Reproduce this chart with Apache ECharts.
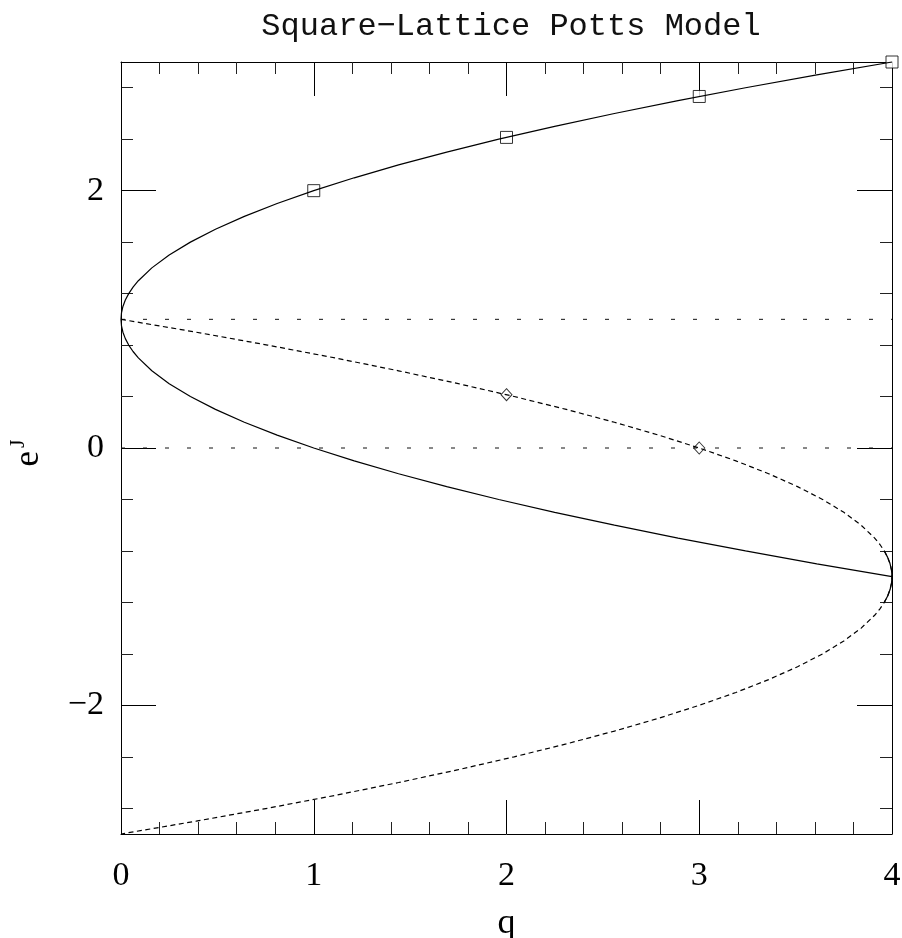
<!DOCTYPE html>
<html>
<head>
<meta charset="utf-8">
<script src="https://cdn.jsdelivr.net/npm/echarts@6/dist/echarts.min.js"></script>
<style>
  html, body { margin: 0; padding: 0; background: #fff; }
  #chart { width: 902px; height: 938px; }
</style>
</head>
<body>
<div id="chart"></div>
<script>
// Ferromagnetic critical curve: q against e^J (upper and lower branch joined at q = 0)
const ferroQ = [4.00, 3.61, 3.24, 2.89, 2.56, 2.25, 1.96, 1.69, 1.44, 1.21, 1.00, 0.81, 0.64, 0.49, 0.36, 0.25, 0.16, 0.09, 0.0625, 0.04, 0.0225, 0.01, 0.0025, 0,
                0.0025, 0.01, 0.0225, 0.04, 0.0625, 0.09, 0.16, 0.25, 0.36, 0.49, 0.64, 0.81, 1.00, 1.21, 1.44, 1.69, 1.96, 2.25, 2.56, 2.89, 3.24, 3.61, 4.00];
const ferroY = [3.0, 2.9, 2.8, 2.7, 2.6, 2.5, 2.4, 2.3, 2.2, 2.1, 2.0, 1.9, 1.8, 1.7, 1.6, 1.5, 1.4, 1.3, 1.25, 1.2, 1.15, 1.1, 1.05, 1.0,
                0.95, 0.9, 0.85, 0.8, 0.75, 0.7, 0.6, 0.5, 0.4, 0.3, 0.2, 0.1, 0.0, -0.1, -0.2, -0.3, -0.4, -0.5, -0.6, -0.7, -0.8, -0.9, -1.0];

// Antiferromagnetic curve (dashed), turning at q = 4
const antiQ = [0, 0.39, 0.76, 1.11, 1.44, 1.75, 2.04, 2.31, 2.56, 2.79, 3.00, 3.19, 3.36, 3.51, 3.64, 3.75, 3.84, 3.91, 3.9375, 3.96, 3.9775, 3.99, 3.9975, 4,
               3.9975, 3.99, 3.9775, 3.96, 3.9375, 3.91, 3.84, 3.75, 3.64, 3.51, 3.36, 3.19, 3.00, 2.79, 2.56, 2.31, 2.04, 1.75, 1.44, 1.11, 0.76, 0.39, 0];
const antiY = [1.0, 0.9, 0.8, 0.7, 0.6, 0.5, 0.4, 0.3, 0.2, 0.1, 0.0, -0.1, -0.2, -0.3, -0.4, -0.5, -0.6, -0.7, -0.75, -0.8, -0.85, -0.9, -0.95, -1.0,
               -1.05, -1.1, -1.15, -1.2, -1.25, -1.3, -1.4, -1.5, -1.6, -1.7, -1.8, -1.9, -2.0, -2.1, -2.2, -2.3, -2.4, -2.5, -2.6, -2.7, -2.8, -2.9, -3.0];

// Exact points marked on the curves
const squareQ = [1, 2, 3, 4];
const squareY = [2.0, 2.414, 2.732, 3.0];
const diamondQ = [2, 3];
const diamondY = [0.414, 0.0];

// Dotted reference levels
const levelY = [1, 0];
const levelQ = [0, 4];

// Axis ticks
const yMajorTicks = [-2, 0, 2];
const yMinorTicks = [-2.8, -2.4, -1.6, -1.2, -0.8, -0.4, 0.4, 0.8, 1.2, 1.6, 2.4, 2.8];

const zip = (xs, ys) => xs.map((x, i) => [x, ys[i]]);

const ferroData = zip(ferroQ, ferroY);
const antiData = zip(antiQ, antiY);
// part of the antiferromagnetic curve around its turning point drawn solid
const antiTurn = antiData.filter(p => p[1] <= -0.8 && p[1] >= -1.2);

const ink = '#000';
const serif = 'Liberation Serif';

function xAxisDef(pos, showLabels) {
  return {
    type: 'value', position: pos, min: 0, max: 4, interval: 1,
    axisLine: { show: true, onZero: false, lineStyle: { color: ink, width: 1 } },
    axisTick: { show: true, inside: true, length: 34, lineStyle: { color: ink, width: 1 } },
    minorTick: { show: true, splitNumber: 5, length: 12, lineStyle: { color: '#222', width: 1 } },
    splitLine: { show: false },
    axisLabel: { show: showLabels, margin: 25, color: ink, fontFamily: serif, fontSize: 34 },
    name: showLabels ? 'q' : '',
    nameLocation: 'middle', nameGap: 72,
    nameTextStyle: { color: ink, fontFamily: serif, fontSize: 36 }
  };
}

function yAxisDef(pos, ticks, len, showLine, showLabels, withName) {
  const ax = {
    type: 'value', position: pos, min: -3, max: 3,
    axisLine: { show: showLine, onZero: false, lineStyle: { color: ink, width: 1 } },
    axisTick: { show: true, inside: true, length: len, customValues: ticks, lineStyle: { color: len > 20 ? ink : '#222', width: 1 } },
    splitLine: { show: false },
    axisLabel: {
      show: showLabels, customValues: ticks, margin: 17, color: ink, fontFamily: serif, fontSize: 34,
      formatter: v => String(v).replace('-', '\u2212')
    }
  };
  if (withName) {
    ax.name = '{e|e}{s|J}';
    ax.nameLocation = 'middle';
    ax.nameRotate = 90;
    ax.nameGap = 70;
    ax.nameTextStyle = {
      color: ink, fontFamily: serif,
      rich: {
        e: { fontFamily: serif, fontSize: 35, lineHeight: 44, color: ink },
        s: { fontFamily: serif, fontSize: 22, lineHeight: 44, verticalAlign: 'top', color: ink, padding: [0, 10, 0, 3] }
      }
    };
  }
  return ax;
}

const chart = echarts.init(document.getElementById('chart'), null, { renderer: 'canvas' });

chart.setOption({
  animation: false,
  backgroundColor: '#fff',
  title: {
    text: 'Square\u2212Lattice Potts Model',
    left: 506, textAlign: 'center', top: 6,
    textStyle: { fontFamily: 'Liberation Mono', fontSize: 32, fontWeight: 'normal', color: '#111' }
  },
  grid: { left: 121, right: 10, top: 62, bottom: 104, containLabel: false, outerBoundsMode: 'none' },
  xAxis: [xAxisDef('bottom', true), xAxisDef('top', false)],
  yAxis: [
    yAxisDef('left', yMajorTicks, 35, true, true, true),
    yAxisDef('left', yMinorTicks, 12, false, false, false),
    yAxisDef('right', yMajorTicks, 35, true, false, false),
    yAxisDef('right', yMinorTicks, 12, false, false, false)
  ],
  series: [
    {
      type: 'line', data: levelQ.map(q => [q, levelY[0]]), showSymbol: false,
      lineStyle: { color: '#111', width: 1, type: [4, 18] }
    },
    {
      type: 'line', data: levelQ.map(q => [q, levelY[1]]), showSymbol: false,
      lineStyle: { color: '#111', width: 1, type: [4, 18] }
    },
    {
      type: 'line', data: antiData, showSymbol: false,
      lineStyle: { color: ink, width: 1.2, type: [5, 3.5] }
    },
    {
      type: 'line', data: antiTurn, showSymbol: false, clip: false,
      lineStyle: { color: ink, width: 1.2 }
    },
    {
      type: 'line', data: ferroData, showSymbol: false, clip: false,
      lineStyle: { color: ink, width: 1.2 }
    },
    {
      type: 'scatter', data: zip(squareQ, squareY), symbol: 'rect', symbolSize: 12, clip: false,
      itemStyle: { color: '#fff', borderColor: ink, borderWidth: 1 }
    },
    {
      type: 'scatter', data: zip(diamondQ, diamondY), symbol: 'diamond', symbolSize: [11, 12], clip: false,
      itemStyle: { color: '#fff', borderColor: ink, borderWidth: 1 }
    }
  ]
});
</script>
</body>
</html>
